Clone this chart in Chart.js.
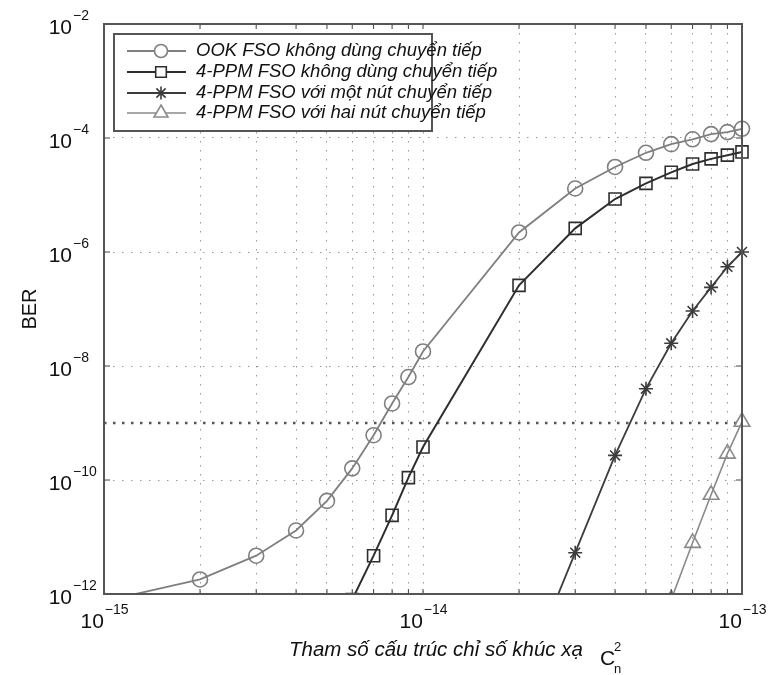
<!DOCTYPE html>
<html>
<head>
<meta charset="utf-8">
<script src="https://cdn.jsdelivr.net/npm/chart.js@4"></script>
<style>
    body { margin: 0; background: #fff; }
    canvas { display: block; }
</style>
</head>
<body>
<canvas id="berChart" width="770" height="675"></canvas>
<script>
"use strict";

// Cn^2 values (x) and BER values (y)
const cn2OOK = [1e-15, 2e-15, 3e-15, 4e-15, 5e-15, 6e-15, 7e-15, 8e-15, 9e-15, 1e-14,
    2e-14, 3e-14, 4e-14, 5e-14, 6e-14, 7e-14, 8e-14, 9e-14, 1e-13];
const berOOK = [7.5e-13, 1.8e-12, 4.7e-12, 1.3e-11, 4.3e-11, 1.6e-10, 6.1e-10, 2.2e-9, 6.4e-9, 1.8e-8,
    2.2e-6, 1.3e-5, 3.1e-5, 5.5e-5, 7.8e-5, 9.5e-5, 1.17e-4, 1.27e-4, 1.45e-4];

const cn2PPM = [6e-15, 7e-15, 8e-15, 9e-15, 1e-14, 2e-14, 3e-14, 4e-14, 5e-14, 6e-14, 7e-14, 8e-14, 9e-14, 1e-13];
const berPPM = [8e-13, 4.7e-12, 2.4e-11, 1.1e-10, 3.8e-10, 2.6e-7, 2.6e-6, 8.5e-6, 1.6e-5, 2.5e-5, 3.5e-5, 4.3e-5, 5.0e-5, 5.7e-5];

const cn2Relay1 = [2e-14, 3e-14, 4e-14, 5e-14, 6e-14, 7e-14, 8e-14, 9e-14, 1e-13];
const berRelay1 = [2.1e-14, 5.3e-12, 2.7e-10, 4.0e-9, 2.5e-8, 9.2e-8, 2.4e-7, 5.5e-7, 1.0e-6];

const cn2Relay2 = [6e-14, 7e-14, 8e-14, 9e-14, 1e-13];
const berRelay2 = [8e-13, 7.9e-12, 5.5e-11, 2.9e-10, 1.05e-9];

const berTarget = 1e-9;

const seriesLabels = [
    "OOK FSO không dùng chuyển tiếp",
    "4-PPM FSO không dùng chuyển tiếp",
    "4-PPM FSO với một nút chuyển tiếp",
    "4-PPM FSO với hai nút chuyển tiếp"
];

const xGridValues = [1e-15, 2e-15, 3e-15, 4e-15, 5e-15, 6e-15, 7e-15, 8e-15, 9e-15, 1e-14,
    2e-14, 3e-14, 4e-14, 5e-14, 6e-14, 7e-14, 8e-14, 9e-14, 1e-13];
const xLabelExps = [-15, -14, -13];
const yLabelExps = [-12, -10, -8, -6, -4, -2];

const yAxisTitle = "BER";
const xAxisTitle = "Tham số cấu trúc chỉ số khúc xạ";

const FONT = '"Liberation Sans", Arial, sans-serif';

function toPoints(xs, ys) {
    return xs.map((x, i) => ({ x: x, y: ys[i] }));
}

const matlabDecor = {
    id: 'matlabDecor',
    afterDraw(chart) {
        const ctx = chart.ctx;
        const area = chart.chartArea;
        const xs = chart.scales.x;
        const ys = chart.scales.y;
        ctx.save();

        // inward ticks
        ctx.strokeStyle = '#444';
        ctx.lineWidth = 1;
        ctx.beginPath();
        xGridValues.forEach(v => {
            const px = xs.getPixelForValue(v);
            ctx.moveTo(px, area.bottom); ctx.lineTo(px, area.bottom - 5);
            ctx.moveTo(px, area.top); ctx.lineTo(px, area.top + 5);
        });
        yLabelExps.forEach(e => {
            const py = ys.getPixelForValue(Math.pow(10, e));
            ctx.moveTo(area.left, py); ctx.lineTo(area.left + 6, py);
            ctx.moveTo(area.right, py); ctx.lineTo(area.right - 6, py);
        });
        ctx.stroke();

        // frame
        ctx.strokeStyle = '#555';
        ctx.lineWidth = 2;
        ctx.strokeRect(area.left, area.top, area.right - area.left, area.bottom - area.top);

        // tick labels
        ctx.fillStyle = '#111';
        ctx.textBaseline = 'middle';
        yLabelExps.forEach(e => {
            const py = ys.getPixelForValue(Math.pow(10, e));
            ctx.font = '21px ' + FONT;
            ctx.textAlign = 'right';
            ctx.fillText('10', area.left - 32, py + 4);
            ctx.font = '14px ' + FONT;
            ctx.textAlign = 'left';
            ctx.fillText('\u2212' + Math.abs(e), area.left - 31, py - 8);
        });
        xLabelExps.forEach(e => {
            const px = xs.getPixelForValue(Math.pow(10, e));
            ctx.font = '21px ' + FONT;
            const w10 = ctx.measureText('10').width;
            ctx.font = '14px ' + FONT;
            const expText = '\u2212' + Math.abs(e);
            const wExp = ctx.measureText(expText).width;
            const start = px - (w10 + wExp) / 2;
            ctx.textAlign = 'left';
            ctx.font = '21px ' + FONT;
            ctx.fillText('10', start, area.bottom + 28);
            ctx.font = '14px ' + FONT;
            ctx.fillText(expText, start + w10 + 1, area.bottom + 16);
        });

        // axis titles
        ctx.save();
        ctx.translate(30, (area.top + area.bottom) / 2);
        ctx.rotate(-Math.PI / 2);
        ctx.textAlign = 'center';
        ctx.font = '20px ' + FONT;
        ctx.fillText(yAxisTitle, 0, 0);
        ctx.restore();

        ctx.textAlign = 'left';
        ctx.textBaseline = 'alphabetic';
        ctx.font = 'italic 20.5px ' + FONT;
        ctx.fillText(xAxisTitle, 289, 656);
        ctx.font = '21px ' + FONT;
        ctx.fillText('C', 600, 665);
        ctx.font = '13px ' + FONT;
        ctx.fillText('2', 614, 651);
        ctx.fillText('n', 614, 673);

        // legend
        const lx = area.left + 10, ly = area.top + 10, lw = 318, lh = 97;
        ctx.fillStyle = '#fff';
        ctx.fillRect(lx, ly, lw, lh);
        ctx.strokeStyle = '#555';
        ctx.lineWidth = 2;
        ctx.strokeRect(lx, ly, lw, lh);
        const rowY = [ly + 17, ly + 38, ly + 59, ly + 79];
        chart.data.datasets.slice(0, 4).forEach((ds, i) => {
            const y = rowY[i];
            ctx.strokeStyle = ds.borderColor;
            ctx.lineWidth = ds.borderWidth;
            ctx.setLineDash([]);
            ctx.beginPath();
            ctx.moveTo(lx + 13, y);
            ctx.lineTo(lx + 72, y);
            ctx.stroke();
            ctx.fillStyle = ds.pointBackgroundColor === ds.borderColor ? ds.borderColor : '#fff';
            ctx.lineWidth = ds.pointBorderWidth;
            Chart.helpers.drawPoint(ctx, {
                pointStyle: ds.pointStyle,
                radius: ds.legendRadius,
                borderWidth: ds.pointBorderWidth,
                rotation: 0
            }, lx + 47, y);
            ctx.fillStyle = '#111';
            ctx.font = 'italic 18.5px ' + FONT;
            ctx.textBaseline = 'middle';
            ctx.fillText(seriesLabels[i], lx + 82, y);
        });

        ctx.restore();
    }
};

function makeSeries(xs, ys, color, width, style, radius, legendRadius) {
    return {
        data: toPoints(xs, ys),
        borderColor: color,
        borderWidth: width,
        pointStyle: style,
        pointRadius: radius,
        legendRadius: legendRadius,
        pointBorderColor: color,
        pointBackgroundColor: style === 'star' ? color : 'rgba(255,255,255,0)',
        pointBorderWidth: 1.6,
        fill: false,
        tension: 0,
        clip: { left: 0, top: 0, right: 12, bottom: 0 }
    };
}

const datasets = [
    makeSeries(cn2OOK, berOOK, '#7f7f7f', 1.8, 'circle', 7.5, 6.5),
    makeSeries(cn2PPM, berPPM, '#2e2e2e', 2, 'rect', 8.5, 7.5),
    makeSeries(cn2Relay1, berRelay1, '#3c3c3c', 1.8, 'star', 7, 6.5),
    makeSeries(cn2Relay2, berRelay2, '#8a8a8a', 1.6, 'triangle', 9, 8),
    {
        data: toPoints([xGridValues[0], xGridValues[xGridValues.length - 1]], [berTarget, berTarget]),
        borderColor: '#555',
        borderWidth: 2.6,
        borderDash: [2.5, 6.5],
        pointRadius: 0,
        fill: false
    }
];

new Chart(document.getElementById('berChart'), {
    type: 'line',
    data: { datasets: datasets },
    options: {
        responsive: false,
        animation: false,
        devicePixelRatio: 1,
        layout: { padding: { left: 104, top: 24, right: 28, bottom: 81 } },
        plugins: {
            legend: { display: false },
            tooltip: { enabled: false }
        },
        scales: {
            x: {
                type: 'logarithmic',
                min: 1e-15,
                max: 1e-13,
                afterBuildTicks: axis => { axis.ticks = xGridValues.map(v => ({ value: v })); },
                ticks: { display: false },
                grid: { color: '#999', lineWidth: 1, drawTicks: false },
                border: { display: false, dash: [1.5, 7.5] }
            },
            y: {
                type: 'logarithmic',
                min: 1e-12,
                max: 1e-2,
                afterBuildTicks: axis => { axis.ticks = yLabelExps.map(e => ({ value: Math.pow(10, e) })); },
                ticks: { display: false },
                grid: { color: '#999', lineWidth: 1, drawTicks: false },
                border: { display: false, dash: [1.5, 7.5] }
            }
        }
    },
    plugins: [matlabDecor]
});
</script>
</body>
</html>
